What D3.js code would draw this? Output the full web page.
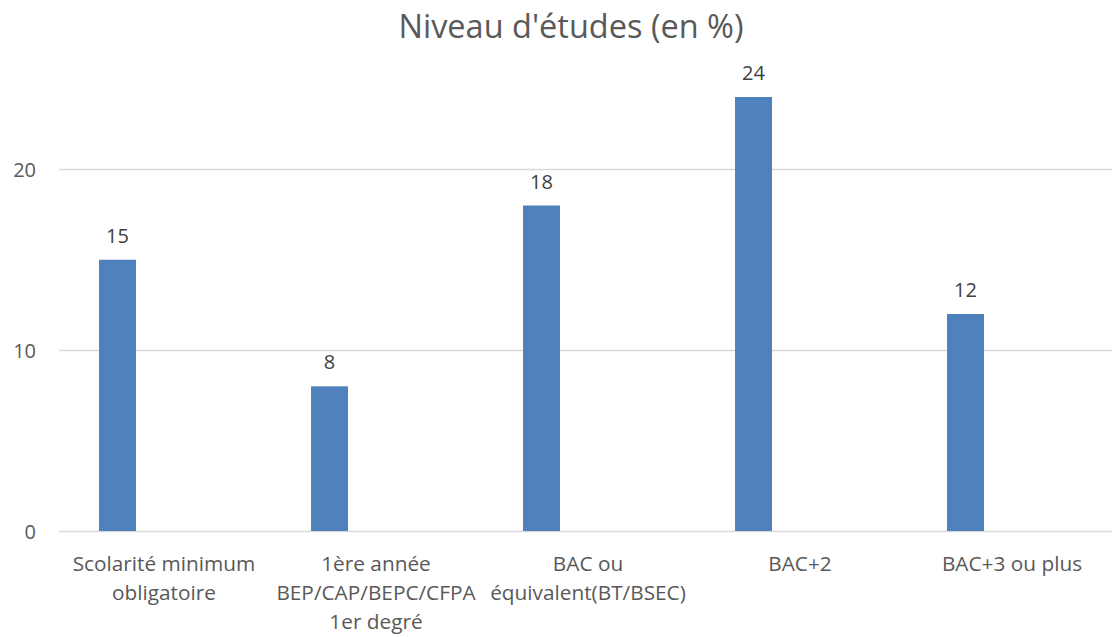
<!DOCTYPE html>
<html>
<head>
<meta charset="utf-8">
<script src="https://cdn.jsdelivr.net/npm/d3@7"></script>
<style>
  html, body { margin: 0; padding: 0; background: #fff; }
  svg { display: block; }
  text { font-family: "Open Sans", "Noto Sans", sans-serif; }
</style>
</head>
<body>
<svg id="chart" width="1112" height="637"></svg>
<script>
const title = "Niveau d'études (en %)";
const categories = [
  "Scolarité minimum\nobligatoire",
  "1ère année\nBEP/CAP/BEPC/CFPA\n1er degré",
  "BAC ou\néquivalent(BT/BSEC)",
  "BAC+2",
  "BAC+3 ou plus"
];
const values = [15, 8, 18, 24, 12];
const yTicks = [0, 10, 20];

const W = 1112, H = 637;
const plotLeft = 58, plotRight = 1118;
const plotTop = 97, plotBottom = 531;
const svg = d3.select("#chart");

const x = d3.scaleBand()
  .domain(categories)
  .range([plotLeft, plotRight])
  .padding(0);

const y = d3.scaleLinear()
  .domain([0, 24])
  .range([plotBottom, plotTop]);

// gridlines
svg.append("g")
  .selectAll("line")
  .data(yTicks)
  .join("line")
  .attr("x1", 59)
  .attr("x2", W)
  .attr("y1", d => Math.round(y(d)) + 0.5)
  .attr("y2", d => Math.round(y(d)) + 0.5)
  .attr("stroke", "#D9D9D9")
  .attr("stroke-width", 1.3);

// y axis labels
const yAxis = d3.axisLeft(y).tickValues(yTicks).tickSize(0).tickPadding(0);
const gy = svg.append("g").attr("transform", "translate(36,0)").call(yAxis);
gy.select(".domain").remove();
gy.selectAll("text")
  .attr("fill", "#595959")
  .style("font-size", "20px")
  .style("font-family", "'Open Sans', sans-serif")
  .attr("dy", "0.36em");

// bars
const bw = x.bandwidth();
const off = 0.1935, bwr = 0.1745;
svg.append("g")
  .selectAll("rect")
  .data(values)
  .join("rect")
  .attr("x", (d, i) => x(categories[i]) + bw * off)
  .attr("width", bw * bwr)
  .attr("y", d => y(d))
  .attr("height", d => y(0) - y(d))
  .attr("fill", "#4F81BD");

// data labels
svg.append("g")
  .selectAll("text")
  .data(values)
  .join("text")
  .attr("x", (d, i) => x(categories[i]) + bw * off + bw * bwr / 2)
  .attr("y", d => y(d) - 17)
  .attr("text-anchor", "middle")
  .attr("fill", "#404040")
  .style("font-size", "20px")
  .text(d => d);

// category labels
const gx = svg.append("g");
categories.forEach(c => {
  const t = gx.append("text")
    .attr("x", x(c) + bw / 2)
    .attr("y", 571)
    .attr("text-anchor", "middle")
    .attr("fill", "#595959")
    .style("font-size", "20.8px");
  c.split("\n").forEach((line, i) => {
    t.append("tspan")
      .attr("x", x(c) + bw / 2)
      .attr("dy", i === 0 ? 0 : 29)
      .text(line);
  });
});

// title
svg.append("text")
  .attr("x", 571)
  .attr("y", 38)
  .attr("text-anchor", "middle")
  .attr("fill", "#595959")
  .style("font-size", "32.5px")
  .text(title);
</script>
</body>
</html>
